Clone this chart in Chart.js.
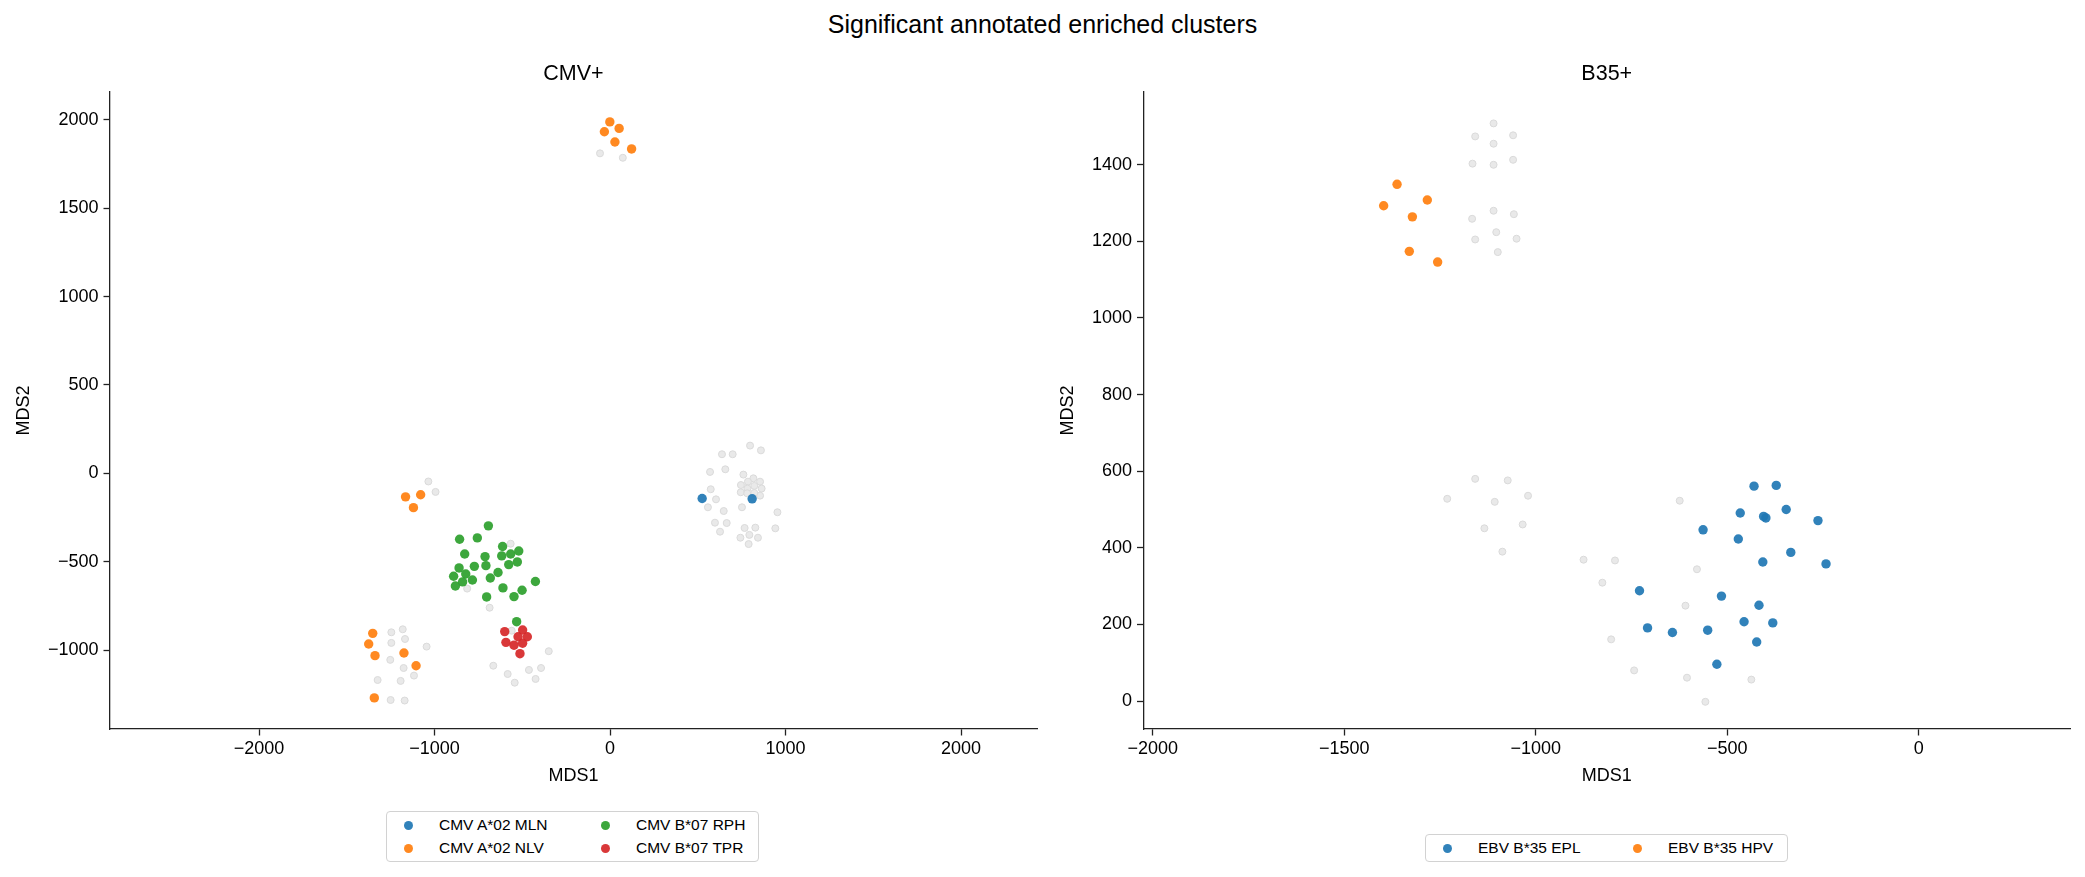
<!DOCTYPE html>
<html>
<head>
<meta charset="utf-8">
<script src="https://cdn.jsdelivr.net/npm/chart.js@4.4.0/dist/chart.umd.min.js"></script>
<style>
  body { margin: 0; width: 2085px; height: 877px; background: #fff; position: relative; overflow: hidden;
         font-family: "Liberation Sans", Arial, sans-serif; color: #000; }
  #suptitle { position: absolute; left: 0; width: 2085px; top: 9px; text-align: center; font-size: 25px; line-height: 30px; }
  canvas { position: absolute; top: 0; }
  .legend { position: absolute; box-sizing: border-box; border: 1px solid #d2d2d2; border-radius: 4px; background: #fff;
            display: grid; grid-auto-flow: column; font-size: 15.5px; padding-left: 17px; align-content: center; }
  .legend .item { display: flex; align-items: center; white-space: nowrap; height: 23px; }
  .legend .dot { width: 9px; height: 9px; border-radius: 50%; flex: none; }
</style>
</head>
<body>
<div id="suptitle">Significant annotated enriched clusters</div>
<canvas id="cmvChart" width="1045" height="800" style="left:0px"></canvas>
<canvas id="b35Chart" width="1045" height="800" style="left:1040px"></canvas>
<div id="cmvLegend" class="legend" style="left:386px; top:811px; width:373px; height:51px; grid-template-rows: repeat(2, 23px); grid-template-columns: 197px 160px;"></div>
<div id="b35Legend" class="legend" style="left:1425px; top:834px; width:363px; height:28px; grid-template-rows: 23px; grid-template-columns: 190px 160px;"></div>

<script>
// ---- CMV+ panel ----
const cmvMLN = [[525, -142], [810, -144]];
const cmvNLV = [
  [-1, 1988], [-32, 1932], [52, 1951], [28, 1874], [123, 1835],
  [-1165, -133], [-1079, -121], [-1120, -194],
  [-1352, -905], [-1375, -965], [-1339, -1031], [-1174, -1016], [-1105, -1088], [-1343, -1270]
];
const cmvRPH = [
  [-693, -297], [-857, -373], [-756, -365], [-828, -456], [-712, -471], [-612, -414], [-566, -456],
  [-520, -439], [-617, -467], [-577, -516], [-528, -501], [-707, -522], [-773, -526], [-860, -535],
  [-822, -569], [-891, -582], [-840, -614], [-881, -637], [-784, -603], [-682, -592], [-638, -561],
  [-610, -648], [-501, -661], [-425, -612], [-703, -699], [-547, -697], [-532, -839]
];
const cmvTPR = [
  [-600, -895], [-498, -886], [-524, -924], [-471, -924], [-593, -956], [-547, -972], [-498, -961], [-513, -1020]
];
const cmvOther = [
  [-57, 1810], [73, 1785],
  [-1035, -46], [-994, -105],
  [798, 157], [638, 108], [699, 108], [860, 130], [570, 8], [657, 23], [760, -7], [817, -28],
  [855, -47], [786, -47], [746, -66], [783, -86], [822, -71], [864, -86], [745, -107], [855, -126],
  [782, -113], [822, -111], [574, -90], [604, -147], [558, -192], [648, -213], [752, -192], [954, -220],
  [598, -279], [665, -281], [627, -330], [767, -309], [828, -307], [942, -311], [794, -348], [743, -364],
  [843, -364], [790, -400],
  [-566, -398], [-814, -652], [-686, -760],
  [-560, -890], [-349, -1006], [-665, -1088], [-583, -1135], [-543, -1184], [-462, -1112], [-393, -1101], [-424, -1163],
  [-1246, -899], [-1181, -882], [-1246, -959], [-1168, -937], [-1045, -980], [-1252, -1055], [-1176, -1101],
  [-1117, -1144], [-1324, -1169], [-1193, -1174], [-1250, -1282], [-1170, -1285]
];
const cmvXTicks = [-2000, -1000, 0, 1000, 2000];
const cmvYTicks = [-1000, -500, 0, 500, 1000, 1500, 2000];

// ---- B35+ panel ----
const ebvEPL = [
  [-430, 561], [-372, 563], [-466, 491], [-405, 482], [-399, 478], [-346, 500], [-263, 471], [-563, 447],
  [-471, 423], [-334, 388], [-407, 363], [-242, 358], [-729, 288], [-515, 274], [-417, 250],
  [-708, 191], [-643, 179], [-551, 185], [-456, 207], [-381, 204], [-423, 154], [-527, 96]
];
const ebvHPV = [[-1362, 1349], [-1397, 1293], [-1283, 1308], [-1322, 1264], [-1330, 1174], [-1256, 1146]];
const b35Other = [
  [-1110, 1508], [-1158, 1474], [-1059, 1477], [-1110, 1455], [-1165, 1403], [-1110, 1400], [-1059, 1413],
  [-1166, 1259], [-1110, 1280], [-1057, 1271], [-1103, 1224], [-1158, 1205], [-1050, 1207], [-1099, 1172],
  [-1158, 580], [-1073, 576], [-1231, 528], [-1107, 520], [-1020, 536], [-1134, 451], [-1034, 461], [-1087, 390],
  [-875, 369], [-793, 367], [-826, 309], [-624, 523], [-579, 344], [-609, 249], [-803, 161], [-743, 80],
  [-605, 61], [-557, -2], [-437, 56]
];
const b35XTicks = [-2000, -1500, -1000, -500, 0];
const b35YTicks = [0, 200, 400, 600, 800, 1000, 1200, 1400];

const tab = {
  blue: 'rgba(31,119,180,0.92)',
  orange: 'rgba(255,127,14,0.92)',
  green: 'rgba(44,160,44,0.92)',
  red: 'rgba(214,39,40,0.92)'
};

Chart.defaults.font.family = '"Liberation Sans", Arial, sans-serif';
Chart.defaults.color = '#000';

const toPts = arr => arr.map(p => ({ x: p[0], y: p[1] }));
const fmt = v => (v < 0 ? '\u2212' + Math.abs(v) : String(v));

// subplot title centred over the axes box, like matplotlib
const subTitle = {
  id: 'subTitle',
  afterDraw(chart, args, opts) {
    const { ctx, chartArea } = chart;
    ctx.save();
    ctx.font = '21.5px "Liberation Sans", Arial, sans-serif';
    ctx.fillStyle = '#000';
    ctx.textAlign = 'center';
    ctx.textBaseline = 'middle';
    ctx.fillText(opts.text, (chartArea.left + chartArea.right) / 2, chartArea.top - 18);
    ctx.restore();
  }
};

function colored(label, data, color, order) {
  return {
    label: label, data: toPts(data), order: order,
    pointRadius: 4.7, pointBackgroundColor: color, pointBorderWidth: 0, showLine: false
  };
}
function grey(data) {
  return {
    label: 'other', data: toPts(data), order: 10,
    pointRadius: 3.5, pointBackgroundColor: '#e9e9e9', pointBorderColor: '#dadada', pointBorderWidth: 1, showLine: false
  };
}

function axis(opts) {
  const common = {
    type: 'linear',
    min: opts.min, max: opts.max,
    afterBuildTicks: s => { s.ticks = opts.ticks.map(v => ({ value: v })); },
    ticks: { font: { size: 18 }, color: '#000', padding: opts.pad, callback: v => fmt(v), autoSkip: false, maxRotation: 0 },
    grid: { drawOnChartArea: false, drawTicks: true, tickLength: 6.5, tickWidth: 1.3, tickColor: '#222' },
    border: { display: true, color: '#222', width: 1.3 },
    title: { display: true, text: opts.title, font: { size: 18 }, color: '#000', padding: opts.titlePad }
  };
  common.afterFit = opts.fit;
  return common;
}

function makeChart(id, datasets, title, xr, yr, yWidth, padRight) {
  const ctx = document.getElementById(id).getContext('2d');
  return new Chart(ctx, {
    type: 'scatter',
    data: { datasets: datasets },
    plugins: [subTitle],
    options: {
      responsive: false,
      animation: false,
      events: [],
      layout: { padding: { top: 92, right: padRight, left: 0, bottom: 0 } },
      plugins: { legend: { display: false }, tooltip: { enabled: false }, subTitle: { text: title } },
      scales: {
        x: axis({ min: xr[0], max: xr[1], ticks: xr[2], pad: 3, title: 'MDS1',
                  titlePad: { top: 0, bottom: 12.7 }, fit: s => { s.height = 71; } }),
        y: axis({ min: yr[0], max: yr[1], ticks: yr[2], pad: 5, title: 'MDS2',
                  titlePad: { top: yWidth.titleOff, bottom: 0 }, fit: s => { s.width = yWidth.w; } })
      }
    }
  });
}

const cmvChart = makeChart('cmvChart', [
  colored('CMV A*02 MLN', cmvMLN, tab.blue, 4),
  colored('CMV A*02 NLV', cmvNLV, tab.orange, 3),
  colored('CMV B*07 RPH', cmvRPH, tab.green, 2),
  colored('CMV B*07 TPR', cmvTPR, tab.red, 1),
  grey(cmvOther)
], 'CMV+', [-2849, 2433, cmvXTicks], [-1446, 2157, cmvYTicks], { w: 110, titleOff: 13.2 }, 8);

const b35Chart = makeChart('b35Chart', [
  colored('EBV B*35 EPL', ebvEPL, tab.blue, 2),
  colored('EBV B*35 HPV', ebvHPV, tab.orange, 1),
  grey(b35Other)
], 'B35+', [-2024, 395, b35XTicks], [-73, 1590, b35YTicks], { w: 103.5, titleOff: 17.2 }, 15);

// legends built from the chart datasets
function buildLegend(chart, el) {
  chart.data.datasets.filter(d => d.label !== 'other').forEach(d => {
    const item = document.createElement('div');
    item.className = 'item';
    const dot = document.createElement('span');
    dot.className = 'dot';
    dot.style.background = d.pointBackgroundColor;
    const txt = document.createElement('span');
    txt.textContent = d.label;
    txt.style.marginLeft = '26px';
    item.appendChild(dot);
    item.appendChild(txt);
    el.appendChild(item);
  });
}
buildLegend(cmvChart, document.getElementById('cmvLegend'));
buildLegend(b35Chart, document.getElementById('b35Legend'));
</script>
</body>
</html>
